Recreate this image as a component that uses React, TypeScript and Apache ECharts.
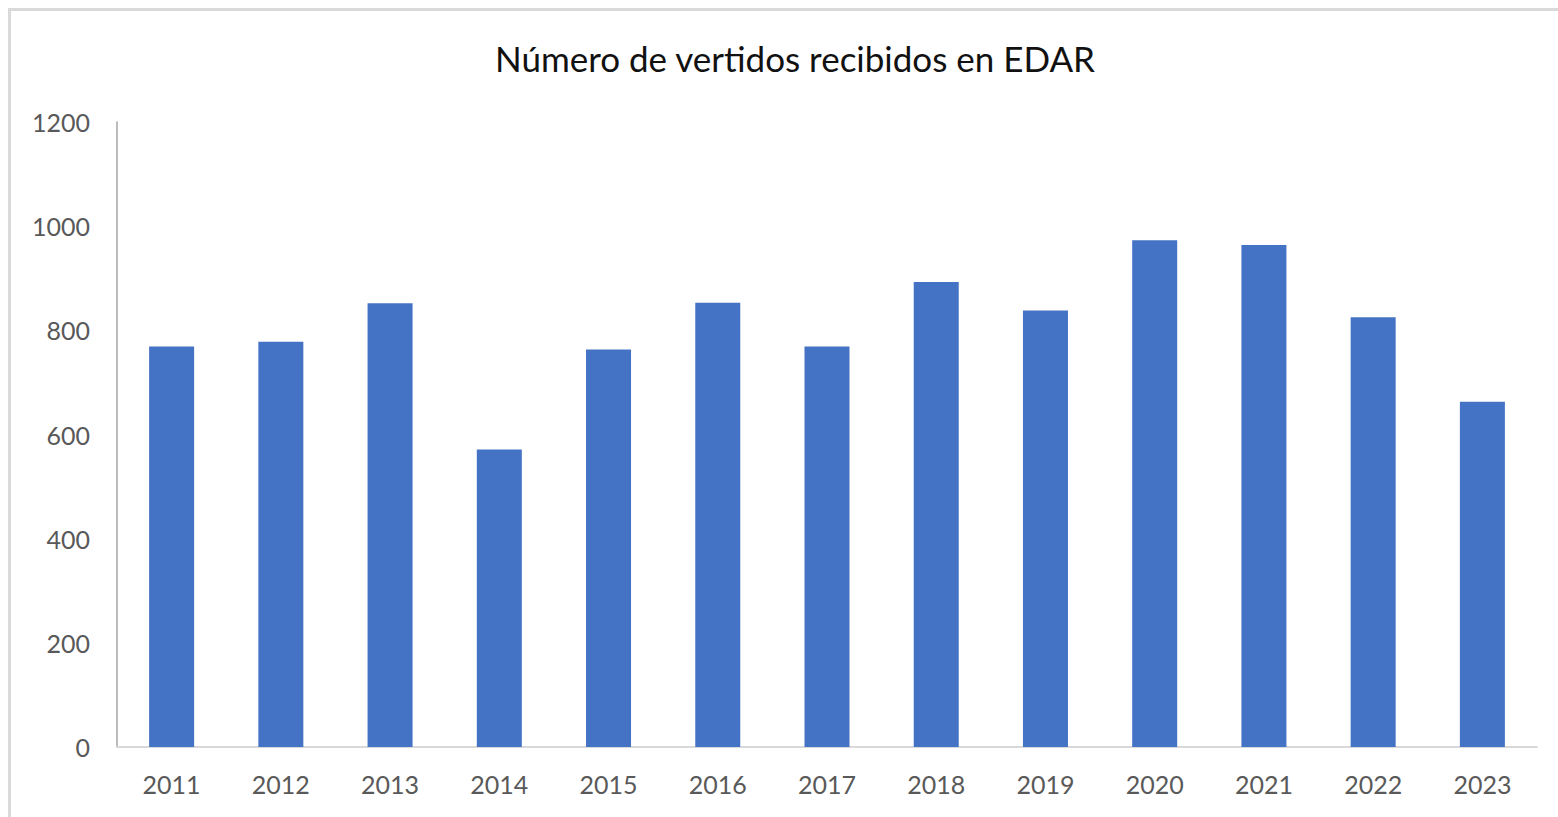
import React, { useEffect, useRef } from "react";
import * as echarts from "echarts";

const titleText = "Número de vertidos recibidos en EDAR";
const years = ["2011", "2012", "2013", "2014", "2015", "2016", "2017", "2018", "2019", "2020", "2021", "2022", "2023"];
const vertidos = [769, 778, 852, 571, 763, 853, 769, 893, 838, 973, 964, 825, 663];
const yMin = 0;
const yMax = 1200;
const yInterval = 200;

export default function App() {
  const ref = useRef<HTMLDivElement>(null);
  useEffect(() => {
    if (!ref.current) return;
    const chart = echarts.init(ref.current, undefined, { renderer: "svg" });
    chart.setOption({
      animation: false,
      backgroundColor: "#ffffff",
      title: {
        text: titleText,
        left: 490,
        top: 35,
        textStyle: { fontFamily: "Lato", fontSize: 35, fontWeight: "normal", color: "#111111" },
      },
      graphic: [
        {
          type: "rect",
          shape: { x: 9.5, y: 9.5, width: 1700, height: 1000 },
          style: { fill: "none", stroke: "#d9d9d9", lineWidth: 3 },
          silent: true,
        },
      ],
      grid: { left: 117, right: 21, top: 122, bottom: 70, containLabel: false },
      xAxis: {
        type: "category",
        data: years,
        axisLine: { show: true, lineStyle: { color: "#d9d9d9", width: 2 } },
        axisTick: { show: false },
        axisLabel: { color: "#595959", fontFamily: "Lato", fontSize: 25, margin: 24 },
      },
      yAxis: {
        type: "value",
        min: yMin,
        max: yMax,
        interval: yInterval,
        axisLine: { show: true, lineStyle: { color: "#a6a6a6", width: 1.5 } },
        axisTick: { show: false },
        splitLine: { show: false },
        axisLabel: {
          color: "#595959",
          fontFamily: "Lato",
          fontSize: 25,
          margin: 27,
          formatter: (v: number) => String(v),
        },
      },
      series: [
        {
          type: "bar",
          data: vertidos,
          barWidth: 45,
          itemStyle: { color: "#4472c4" },
        },
      ],
    });
    return () => chart.dispose();
  }, []);
  return (
    <div
      ref={ref}
      style={{ position: "absolute", left: 0, top: 0, width: 1558, height: 817 }}
    />
  );
}
